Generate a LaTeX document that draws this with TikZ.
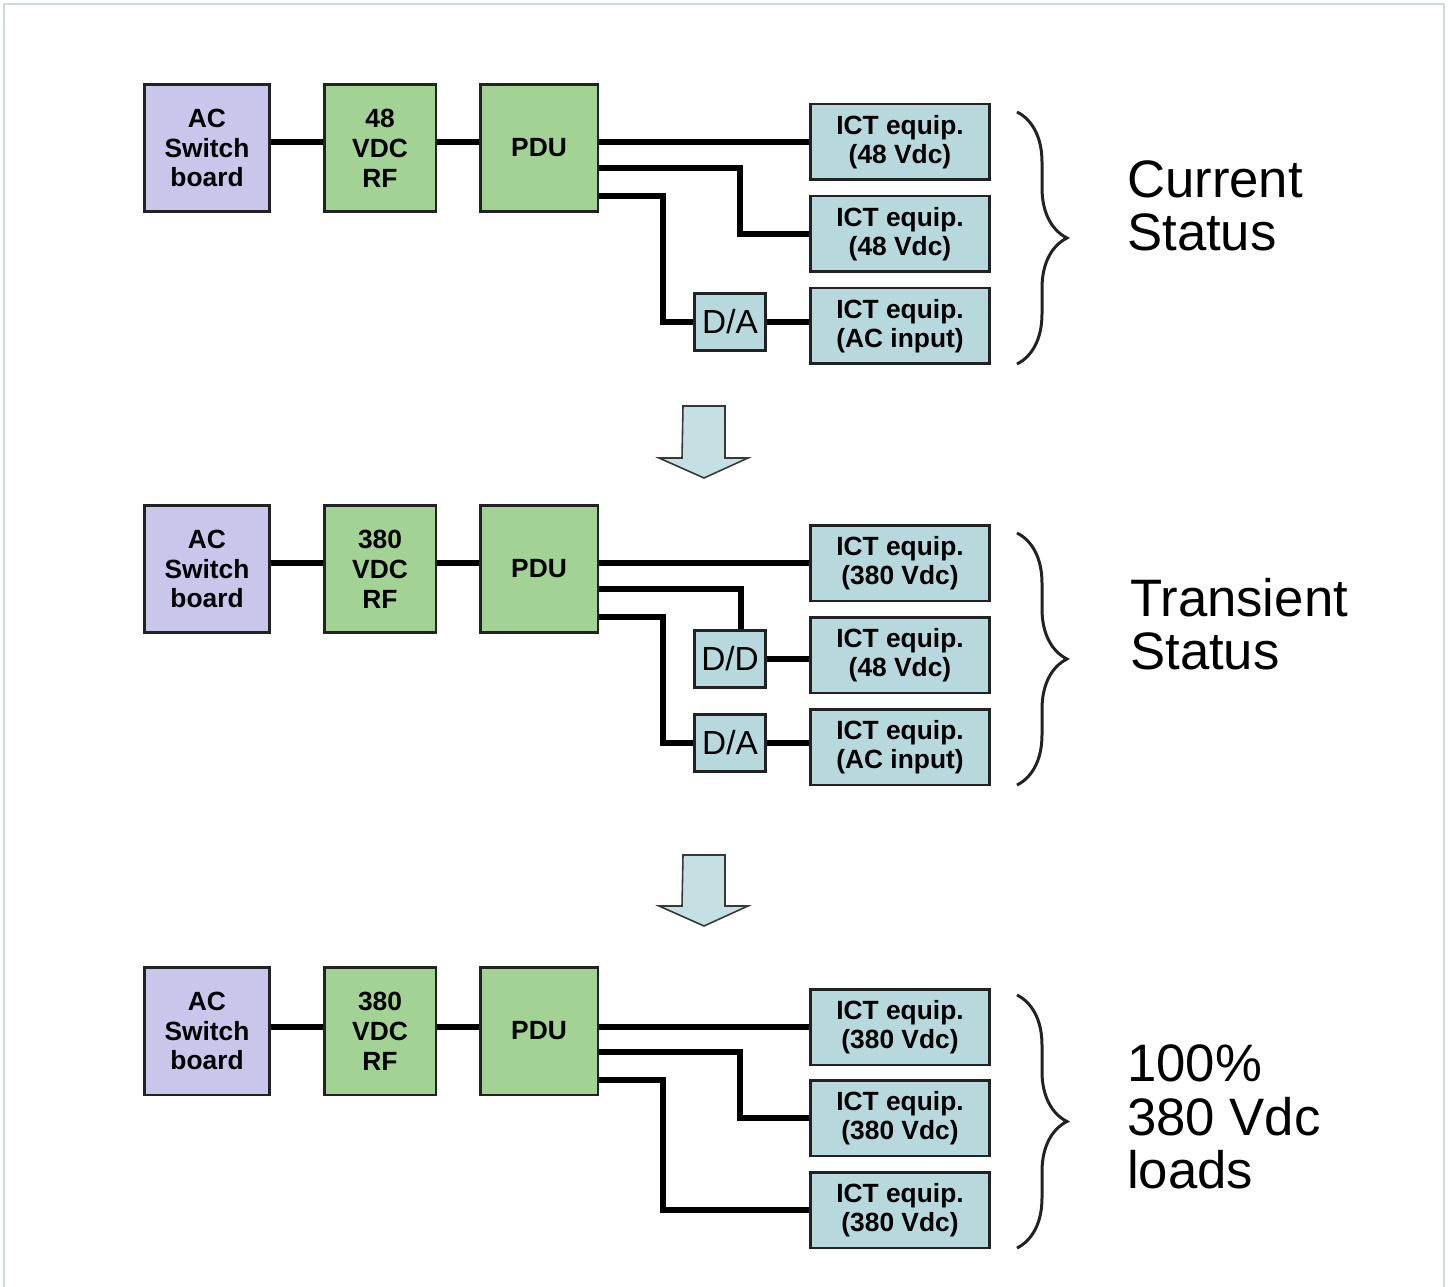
\documentclass[tikz,border=0pt]{standalone}
\usepackage{fontspec}
\setmainfont{Liberation Sans}
\usepackage{tikz}
\usetikzlibrary{
  calc,
  decorations.pathreplacing,
  positioning
}
\definecolor{acpurple}{RGB}{200,198,234}
\definecolor{rfgreen}{RGB}{163,211,148}
\definecolor{ictteal}{RGB}{183,217,222}
\definecolor{arrowteal}{RGB}{196,224,226}
\definecolor{edgeink}{RGB}{34,34,34}
\definecolor{framegray}{RGB}{205,220,224}
\tikzset{
  blockbase/.style={draw=edgeink,line width=1.7pt,align=center,inner sep=2pt,
    font=\fontsize{15}{17}\selectfont\bfseries},
  acbox/.style={blockbase,fill=acpurple,minimum width=2.52cm,minimum height=2.56cm},
  rfbox/.style={blockbase,fill=rfgreen,minimum width=2.24cm,minimum height=2.56cm},
  pdubox/.style={blockbase,fill=rfgreen,minimum width=2.36cm,minimum height=2.56cm},
  ictbox/.style={blockbase,fill=ictteal,minimum width=3.58cm,minimum height=1.52cm,
    font=\fontsize{15}{16.5}\selectfont\bfseries},
  convbox/.style={draw=edgeink,line width=1.7pt,fill=ictteal,inner sep=0pt,
    minimum width=1.42cm,minimum height=1.14cm,font=\fontsize{19}{21}\selectfont},
  wire/.style={line width=3.1pt,draw=black},
  groupbrace/.style={decorate,decoration={brace,amplitude=1.0cm},
    line width=1.7pt,draw=edgeink},
  statuslab/.style={anchor=west,align=left,font=\fontsize{30}{30.5}\selectfont},
  stagearrow/.style={fill=arrowteal,draw=edgeink!90,line width=0.9pt,line join=miter},
  frameline/.style={draw=framegray,line width=1.2pt}
}

\begin{document}
\begin{tikzpicture}[x=0.02cm,y=-0.02cm]
  \useasboundingbox (0,0) rectangle (1450,1287);
  \draw[frameline] (4,1287) |- (1444,4) -- (1444,1287);

  % current status
  \node[acbox] (ac1) at (207,148) {AC\\Switch\\board};
  \node[rfbox] (rf1) at (380,148) {48\\VDC\\RF};
  \node[pdubox] (pdu1) at (539,148) {PDU};
  \node[ictbox] (ict1) at (900,142) {ICT equip.\\(48 Vdc)};
  \node[ictbox] (ict2) at (900,234) {ICT equip.\\(48 Vdc)};
  \node[ictbox] (ict3) at (900,326) {ICT equip.\\(AC input)};
  \node[convbox] (da1) at (730,322) {D/A};
  \draw[wire] (ac1.east |- ict1) -- (rf1.west |- ict1);
  \draw[wire] (rf1.east |- ict1) -- (pdu1.west |- ict1);
  \draw[wire] (pdu1.east |- ict1) -- (ict1.west);
  \draw[wire] ($(pdu1.east)+(0,20)$) -| ($(ict2.west)+(-69,0)$) -- (ict2.west);
  \draw[wire] ($(pdu1.east)+(0,48)$) -| ($(da1.west)+(-30,0)$) -- (da1.west);
  \draw[wire] (da1.east) -- (da1.east -| ict3.west);
  \draw[groupbrace] (1017,112) -- (1017,364);
  \node[statuslab] (cur) at (1121,206) {Current\\Status};

  \coordinate (step1) at (704,406);
  \draw[stagearrow] (step1) ++(-21,0) -- ++(42,0) -- ++(0,52) -- ++(23,0)
    -- ++(-44,20) -- ++(-45,-20) -- ++(23,0) -- cycle;

  % transient status
  \node[acbox] (ac2) at (207,569) {AC\\Switch\\board};
  \node[rfbox] (rf2) at (380,569) {380\\VDC\\RF};
  \node[pdubox] (pdu2) at (539,569) {PDU};
  \node[ictbox] (ict4) at (900,563) {ICT equip.\\(380 Vdc)};
  \node[ictbox] (ict5) at (900,655) {ICT equip.\\(48 Vdc)};
  \node[ictbox] (ict6) at (900,747) {ICT equip.\\(AC input)};
  \node[convbox] (dd2) at (730,659) {D/D};
  \node[convbox] (da2) at (730,743) {D/A};
  \draw[wire] (ac2.east |- ict4) -- (rf2.west |- ict4);
  \draw[wire] (rf2.east |- ict4) -- (pdu2.west |- ict4);
  \draw[wire] (pdu2.east |- ict4) -- (ict4.west);
  \draw[wire] ($(pdu2.east)+(0,20)$) -| ($(dd2.north)+(11,0)$);
  \draw[wire] (dd2.east) -- (dd2.east -| ict5.west);
  \draw[wire] ($(pdu2.east)+(0,48)$) -| ($(da2.west)+(-30,0)$) -- (da2.west);
  \draw[wire] (da2.east) -- (da2.east -| ict6.west);
  \draw[groupbrace] (1017,533) -- (1017,785);
  \node[statuslab] (trans) at (1124,624) {Transient\\Status};

  \coordinate (step2) at (704,855);
  \draw[stagearrow] (step2) ++(-21,0) -- ++(42,0) -- ++(0,51) -- ++(23,0)
    -- ++(-44,20) -- ++(-45,-20) -- ++(23,0) -- cycle;

  % 100% 380 Vdc
  \node[acbox] (ac3) at (207,1031) {AC\\Switch\\board};
  \node[rfbox] (rf3) at (380,1031) {380\\VDC\\RF};
  \node[pdubox] (pdu3) at (539,1031) {PDU};
  \node[ictbox] (ict7) at (900,1027) {ICT equip.\\(380 Vdc)};
  \node[ictbox] (ict8) at (900,1118) {ICT equip.\\(380 Vdc)};
  \node[ictbox] (ict9) at (900,1210) {ICT equip.\\(380 Vdc)};
  \draw[wire] (ac3.east |- ict7) -- (rf3.west |- ict7);
  \draw[wire] (rf3.east |- ict7) -- (pdu3.west |- ict7);
  \draw[wire] (pdu3.east |- ict7) -- (ict7.west);
  \draw[wire] ($(pdu3.east)+(0,21)$) -| ($(ict8.west)+(-69,0)$) -- (ict8.west);
  \draw[wire] ($(pdu3.east)+(0,49)$) -| ($(ict9.west)+(-146,0)$) -- (ict9.west);
  \draw[groupbrace] (1017,995) -- (1017,1248);
  \node[statuslab] (full) at (1121,1117) {100\%\\380 Vdc\\loads};
\end{tikzpicture}
\end{document}
